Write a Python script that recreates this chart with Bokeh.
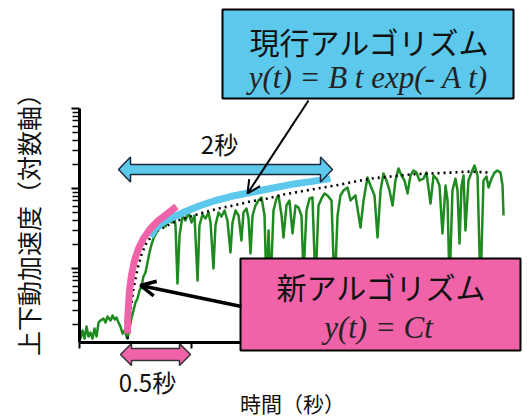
import math
from bokeh.plotting import figure
from bokeh.models import Range1d, FixedTicker, Arrow, OpenHead
from bokeh.core.properties import value
from bokeh.embed import file_html
from bokeh.resources import INLINE

# ---------------- data (time in s, vertical acceleration, log scale) ----------------
green_t = [0.009, 0.027, 0.045, 0.063, 0.080, 0.098, 0.116, 0.134, 0.152, 0.170,
           0.188, 0.214, 0.232, 0.250, 0.277, 0.295, 0.313, 0.330, 0.348, 0.366,
           0.384, 0.402, 0.420, 0.429,
           0.446, 0.464, 0.482, 0.500, 0.518, 0.536, 0.554, 0.571, 0.589, 0.607,
           0.625, 0.643, 0.661, 0.688, 0.714, 0.741, 0.768, 0.795, 0.821, 0.848,
           0.857, 0.875, 0.893, 0.920, 0.946, 0.973, 1.000, 1.027, 1.054, 1.071,
           1.098, 1.125, 1.152, 1.170, 1.196, 1.214, 1.241, 1.268, 1.295, 1.321,
           1.348, 1.366, 1.393, 1.420, 1.446, 1.464, 1.491, 1.509, 1.527, 1.545,
           1.571, 1.598, 1.625, 1.652, 1.670, 1.688, 1.705, 1.732, 1.759, 1.777,
           1.804, 1.821, 1.848, 1.875, 1.902, 1.929, 1.955, 1.982, 2.000, 2.027,
           2.054, 2.080, 2.107, 2.134, 2.161, 2.188, 2.214, 2.250, 2.277, 2.304,
           2.330, 2.357, 2.393, 2.420, 2.464, 2.509, 2.536, 2.571, 2.598, 2.634,
           2.661, 2.688, 2.714, 2.741, 2.768, 2.795, 2.821, 2.848, 2.875, 2.902,
           2.929, 2.955, 2.982, 3.009, 3.036, 3.071, 3.098, 3.134, 3.161, 3.188,
           3.214, 3.241, 3.268, 3.286, 3.304, 3.330, 3.357, 3.375, 3.393, 3.411,
           3.429, 3.446, 3.473, 3.500, 3.527, 3.554, 3.580, 3.607, 3.634, 3.652,
           3.679, 3.705, 3.732, 3.759, 3.777, 3.786]
green_v = [0.133, 0.168, 0.133, 0.188, 0.141, 0.158, 0.133, 0.178, 0.141, 0.211,
           0.224, 0.237, 0.211, 0.251, 0.224, 0.259, 0.230, 0.244, 0.211, 0.188,
           0.154, 0.168, 0.141, 0.133,
           0.178, 0.237, 0.299, 0.376, 0.422, 0.531, 0.596, 0.794, 0.891, 1.19,
           1.585, 1.995, 2.371, 2.818, 3.162, 3.548, 3.35, 3.98, 3.76, 4.217,
           3.45, 0.649, 2.58, 4.6, 3.98, 5.01, 3.76, 4.6, 0.708, 3.45,
           4.73, 4.217, 5.01, 3.76, 1.0, 3.45, 5.01, 4.467, 5.31, 3.98,
           1.585, 3.76, 5.31, 4.6, 2.239, 5.01, 5.62, 4.217, 1.54, 4.6,
           6.13, 7.08, 7.72, 4.6, 0.531, 2.985, 0.531, 5.31, 7.50, 8.18,
           4.6, 2.44, 6.13, 7.08, 2.74, 6.13, 5.79, 4.6, 0.818, 5.31,
           7.50, 7.72, 0.613, 6.13, 7.50, 8.66, 8.18, 7.08, 0.531, 4.6,
           8.18, 9.44, 10.3, 7.08, 8.18, 3.25, 7.08, 13.7, 10.9, 8.18,
           2.44, 9.44, 15.4, 12.6, 9.44, 6.13, 12.6, 17.8, 14.5, 12.6,
           8.66, 14.5, 16.8, 15.8, 12.6, 13.3, 15.8, 6.49, 14.5, 13.3,
           10.9, 2.74, 10.9, 7.08, 0.613, 9.44, 13.3, 9.44, 2.054, 10.9,
           14.5, 2.985, 12.6, 15.8, 19.4, 14.5, 0.531, 12.6, 14.1, 10.3,
           13.3, 15.8, 16.8, 15.8, 10.9, 4.6]

# fitted curve of the current algorithm (dotted)
fit_t = [0.429, 0.455, 0.482, 0.518, 0.554, 0.589, 0.634, 0.696, 0.786, 0.875,
         0.991, 1.107, 1.241, 1.375, 1.527, 1.679, 1.821, 1.973, 2.125, 2.286,
         2.420, 2.598, 2.777, 2.955, 3.134, 3.313, 3.491, 3.670]
fit_v = [0.133, 0.299, 0.562, 1.0, 1.496, 1.995, 2.44, 2.985, 3.45, 3.98,
         4.467, 5.01, 5.62, 6.13, 6.88, 7.50, 8.41, 9.17, 10.0, 10.9,
         11.9, 13.3, 14.1, 15.0, 15.4, 15.8, 16.3, 15.8]

# current algorithm envelope (blue, 2 s)
cur_t = [0.634, 0.679, 0.741, 0.830, 0.946, 1.080, 1.214, 1.348, 1.527, 1.705,
         1.884, 2.063, 2.241]
cur_v = [2.512, 3.162, 3.76, 4.34, 5.16, 6.13, 7.08, 7.94, 8.91, 10.0,
         11.2, 12.2, 13.3]

# new algorithm envelope (pink, 0.5 s)
new_t = [0.429, 0.429, 0.4375, 0.446, 0.464, 0.491, 0.527, 0.571, 0.634, 0.705,
         0.786, 0.866]
new_v = [0.154, 0.224, 0.345, 0.531, 0.818, 1.259, 1.778, 2.371, 3.162, 3.98,
         4.87, 5.96]

y_major = [1, 10, 100]
y_minor = [k * 10.0 ** d for d in (-1, 0, 1) for k in range(2, 10)]
x_ticks = [0, 1]

GREEN = "#1f8a1f"
BLUE = "#5cc8ec"
PINK = "#f063a9"
JP = value("Noto Sans CJK JP")
SERIF = value("Liberation Serif")

# ---------------- layout helpers (page pixel -> data) ----------------
def px_x(sx):
    return (sx - 79) / 112.0

def px_y(sy):
    return 10 ** ((268 - sy) / 80.0)

W, H = 531, 418
p = figure(width=W, height=H,
           x_range=Range1d(px_x(0), px_x(W)),
           y_range=Range1d(px_y(H), px_y(0)),
           y_axis_type="log", output_backend="svg", toolbar_location=None,
           min_border=0)
p.outline_line_color = None
p.grid.visible = False
p.background_fill_color = "white"

xa = p.xaxis[0]
xa.fixed_location = 0.119
xa.bounds = (0, 1.44)
xa.ticker = FixedTicker(ticks=x_ticks)
xa.axis_line_width = 3
xa.major_tick_in = 0
xa.major_tick_out = 6
xa.major_tick_line_width = 2
xa.minor_tick_out = 0
xa.minor_tick_in = 0
xa.major_label_overrides = {float(v): "" for v in x_ticks}

ya = p.yaxis[0]
ya.fixed_location = 0
ya.bounds = (0.119, 100)
ya.ticker = FixedTicker(ticks=y_major, minor_ticks=y_minor)
ya.axis_line_width = 3
ya.major_tick_in = 0
ya.major_tick_out = 8
ya.major_tick_line_width = 2
ya.minor_tick_in = 0
ya.minor_tick_out = 7
ya.minor_tick_line_width = 1.5
ya.major_label_overrides = {float(v): "" for v in y_major}

# measured signal
p.line(green_t, green_v, line_color=GREEN, line_width=2.5, line_join="round")
# dotted fit
p.line(fit_t, fit_v, line_color="black", line_width=2.6, line_dash="2 4")
# envelopes
p.line(cur_t, cur_v, line_color=BLUE, line_width=7)
p.line(new_t, new_v, line_color=PINK, line_width=7)

# block double arrows
def block_arrow(x0, x1, yc, sh, hh, hl):
    pts = [(x0, yc), (x0 + hl, yc - hh), (x0 + hl, yc - sh), (x1 - hl, yc - sh),
           (x1 - hl, yc - hh), (x1, yc), (x1 - hl, yc + hh), (x1 - hl, yc + sh),
           (x0 + hl, yc + sh), (x0 + hl, yc + hh)]
    return [px_x(a) for a, b in pts], [px_y(b) for a, b in pts]

bx, by = block_arrow(118, 332, 169, 5, 12.5, 12)
p.patch(bx, by, fill_color=BLUE, line_color="#1a2a3a", line_width=1.5)
kx, ky = block_arrow(120, 190, 354, 6, 11, 11)
p.patch(kx, ky, fill_color=PINK, line_color="#333333", line_width=1.5)

# text boxes
p.quad(left=[px_x(222)], right=[px_x(513)], top=[px_y(9)], bottom=[px_y(98)],
       fill_color=BLUE, line_color="black", line_width=2)
p.quad(left=[px_x(240)], right=[px_x(520)], top=[px_y(258)], bottom=[px_y(350)],
       fill_color=PINK, line_color="black", line_width=2)

p.text(x=[px_x(369), px_x(381)], y=[px_y(40), px_y(285)],
       text=["現行アルゴリズム", "新アルゴリズム"],
       text_font=JP, text_font_size=value("30px"), text_color="#111111",
       text_align="center", text_baseline="middle")
p.text(x=[px_x(368), px_x(378)], y=[px_y(77), px_y(327)],
       text=["y(t) = B t exp(- A t)", "y(t) = Ct"],
       text_font=SERIF, text_font_style="italic", text_font_size=value("31px"),
       text_color="#222222", text_align="center", text_baseline="middle")

# annotations
p.text(x=[px_x(219), px_x(147)], y=[px_y(143), px_y(381)],
       text=["2秒", "0.5秒"], text_font=JP, text_font_size=value("24px"),
       text_color="#111111", text_align="center", text_baseline="middle")
p.text(x=[px_x(292)], y=[px_y(402)], text=["時間（秒）"], text_font=JP,
       text_font_size=value("21px"), text_color="#111111",
       text_align="center", text_baseline="middle")
p.text(x=[px_x(27)], y=[px_y(218)], text=["上下動加速度（対数軸）"], text_font=JP,
       text_font_size=value("25px"), text_color="#111111", angle=math.pi / 2,
       text_align="center", text_baseline="middle")

p.add_layout(Arrow(end=OpenHead(size=13, line_width=2, line_color="black"),
                   x_start=px_x(308), y_start=px_y(100),
                   x_end=px_x(247), y_end=px_y(193),
                   line_width=2, line_color="black"))
p.add_layout(Arrow(end=OpenHead(size=15, line_width=3.5, line_color="black"),
                   x_start=px_x(241), y_start=px_y(306),
                   x_end=px_x(140), y_end=px_y(285),
                   line_width=3.5, line_color="black"))

open("out.html", "w").write(file_html(p, INLINE))
